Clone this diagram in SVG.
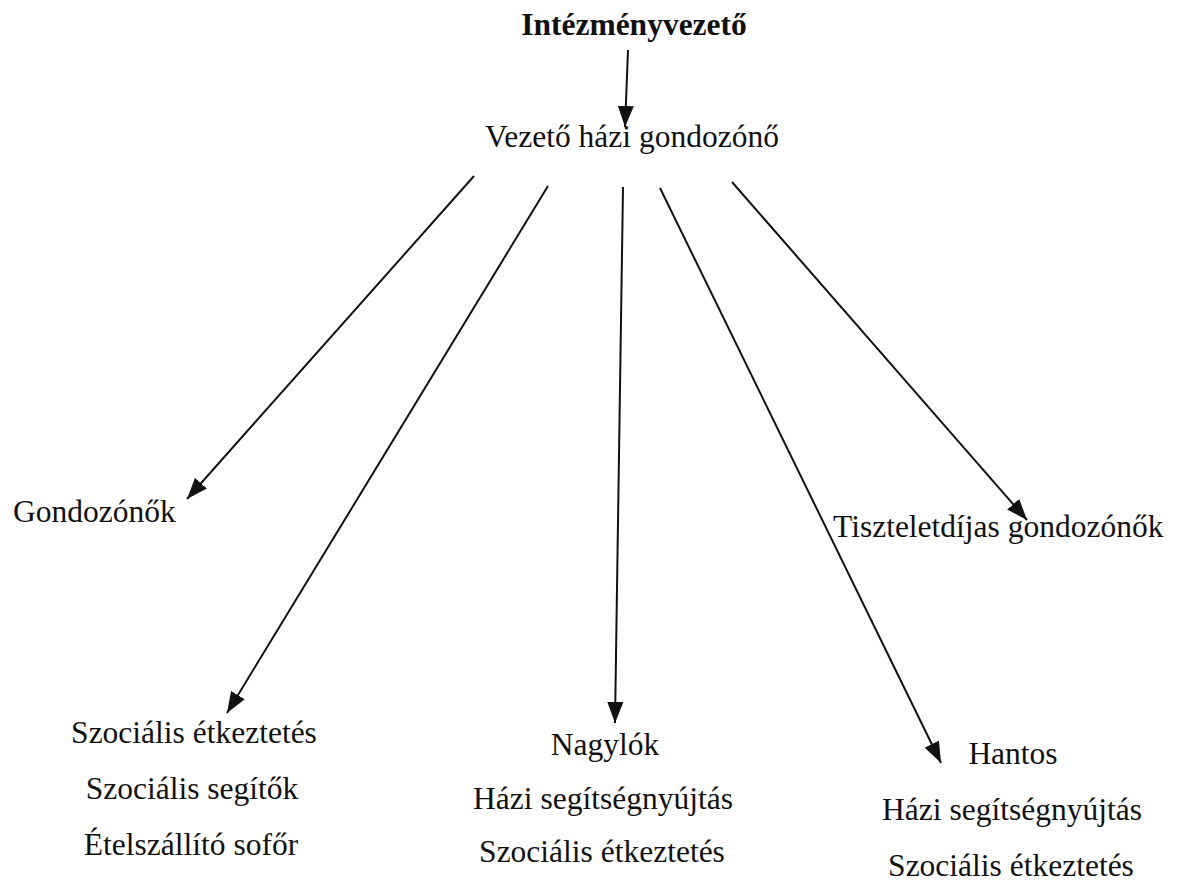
<svg xmlns="http://www.w3.org/2000/svg" width="1180" height="882" viewBox="0 0 1180 882">
<style>
text{font-family:"Liberation Serif","Times New Roman",serif;font-size:31.5px;fill:#111}
.b{font-weight:bold}
.m{text-anchor:middle}
.c line{stroke:#111;stroke-width:2;fill:none}
</style>
<defs>
<marker id="ah" markerUnits="userSpaceOnUse" markerWidth="22" markerHeight="16" refX="21" refY="8" orient="auto">
<path d="M0,0 L21,8 L0,16 z" fill="#111"/>
</marker>
</defs>
<rect width="1180" height="882" fill="#fff"/>
<g class="c" id="connectors">
<line x1="628" y1="50" x2="625" y2="127" marker-end="url(#ah)"/>
<line x1="474" y1="176" x2="187" y2="499" marker-end="url(#ah)"/>
<line x1="548" y1="186" x2="227" y2="713" marker-end="url(#ah)"/>
<line x1="623" y1="187" x2="615" y2="723" marker-end="url(#ah)"/>
<line x1="660" y1="188" x2="941" y2="763" marker-end="url(#ah)"/>
<line x1="732" y1="182" x2="1027" y2="520" marker-end="url(#ah)"/>
</g>
<g id="intezmenyvezeto"><text class="b m" x="634" y="35" font-size="32">Intézményvezető</text></g>
<g id="vezeto"><text class="m" x="632" y="147">Vezető házi gondozónő</text></g>
<g id="gondozonok"><text x="13" y="522">Gondozónők</text></g>
<g id="tiszteletdijas"><text x="833" y="537">Tiszteletdíjas gondozónők</text></g>
<g id="szocialis">
<text class="m" x="194" y="743">Szociális étkeztetés</text>
<text class="m" x="192" y="799">Szociális segítők</text>
<text class="m" x="191" y="855">Ételszállító sofőr</text>
</g>
<g id="nagylok">
<text class="m" x="605" y="755">Nagylók</text>
<text class="m" x="603" y="809">Házi segítségnyújtás</text>
<text class="m" x="602" y="862">Szociális étkeztetés</text>
</g>
<g id="hantos">
<text class="m" x="1013" y="764">Hantos</text>
<text class="m" x="1012" y="820">Házi segítségnyújtás</text>
<text class="m" x="1011" y="876">Szociális étkeztetés</text>
</g>
</svg>
